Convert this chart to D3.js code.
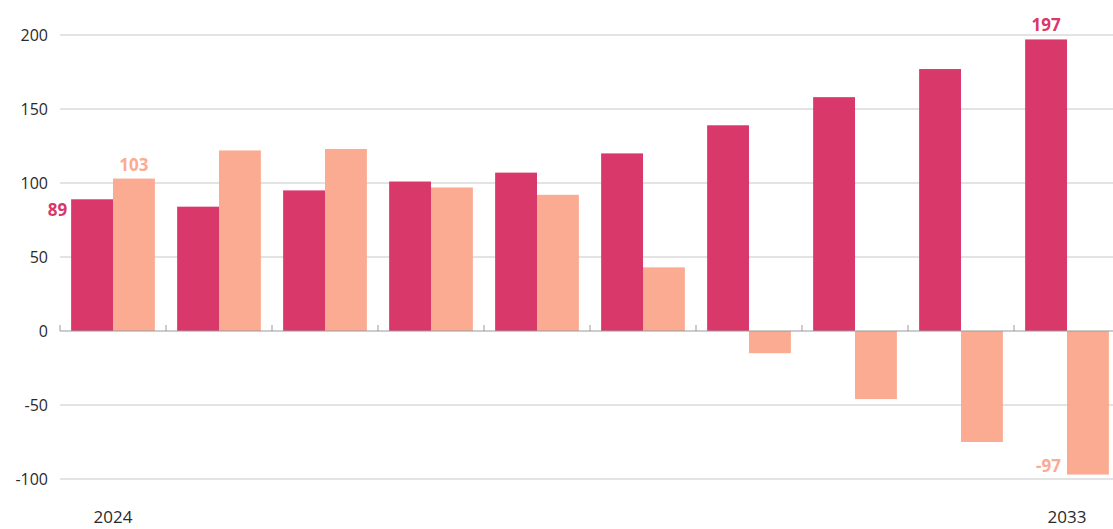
<!DOCTYPE html>
<html>
<head>
<meta charset="utf-8">
<script src="https://cdn.jsdelivr.net/npm/d3@7"></script>
<style>
  body { margin: 0; background: #fff; }
  svg { display: block; font-family: "Open Sans", sans-serif; }
</style>
</head>
<body>
<svg id="chart" width="1113" height="529"></svg>
<script>
var years = [2024, 2025, 2026, 2027, 2028, 2029, 2030, 2031, 2032, 2033];
var seriesA = [89, 84, 95, 101, 107, 120, 139, 158, 177, 197];
var seriesB = [103, 122, 123, 97, 92, 43, -15, -46, -75, -97];
var yTicks = [-100, -50, 0, 50, 100, 150, 200];
var yearLabels = [2024, 2033];

var colorA = "#d9386a",
    colorB = "#fbab92";

var svg = d3.select("#chart"),
    margin = {top: 35, right: -7, bottom: 50, left: 60},
    width = +svg.attr("width") - margin.left - margin.right,
    height = 444;

var g = svg.append("g").attr("transform", "translate(" + margin.left + "," + margin.top + ")");

// one band per year, no padding: the ticks on the zero line mark band edges
var x0 = d3.scaleBand()
    .domain(years)
    .range([0, width]);

var step = x0.bandwidth();

// the two bars inside each band
var x1 = d3.scaleBand()
    .domain(["a", "b"])
    .range([step * 0.105, step * 0.895]);

var y = d3.scaleLinear()
    .domain([-100, 200])
    .range([height, 0]);

var rows = years.map(function(yr, i) {
  return {year: yr, a: seriesA[i], b: seriesB[i]};
});

// grid
g.append("g")
  .selectAll("line")
  .data(yTicks.filter(function(d) { return d !== 0; }))
  .join("line")
    .attr("x1", 0)
    .attr("x2", width)
    .attr("y1", function(d) { return y(d); })
    .attr("y2", function(d) { return y(d); })
    .attr("stroke", "#c8c8c8")
    .attr("stroke-width", 1.2);

// y labels
g.append("g")
  .selectAll("text")
  .data(yTicks)
  .join("text")
    .attr("x", -12)
    .attr("y", function(d) { return y(d); })
    .attr("dy", "0.35em")
    .attr("text-anchor", "end")
    .attr("fill", "#2a2a2a")
    .attr("font-size", 16)
    .text(function(d) { return d; });

// bars
var groups = g.append("g")
  .selectAll("g")
  .data(rows)
  .join("g")
    .attr("transform", function(d) { return "translate(" + x0(d.year) + ",0)"; });

groups.selectAll("rect")
  .data(function(d) { return [{k: "a", v: d.a}, {k: "b", v: d.b}]; })
  .join("rect")
    .attr("x", function(d) { return x1(d.k); })
    .attr("width", x1.bandwidth())
    .attr("y", function(d) { return y(Math.max(0, d.v)); })
    .attr("height", function(d) { return Math.abs(y(d.v) - y(0)); })
    .attr("fill", function(d) { return d.k === "a" ? colorA : colorB; });

// zero line with small upward ticks at band edges
g.append("line")
    .attr("x1", 0)
    .attr("x2", width)
    .attr("y1", y(0))
    .attr("y2", y(0))
    .attr("stroke", "#999")
    .attr("stroke-width", 1.2);

g.append("g")
  .selectAll("line")
  .data(years)
  .join("line")
    .attr("x1", function(d) { return x0(d); })
    .attr("x2", function(d) { return x0(d); })
    .attr("y1", y(0))
    .attr("y2", y(0) - 6)
    .attr("stroke", "#999");

// year labels
g.append("g")
  .selectAll("text")
  .data(yearLabels)
  .join("text")
    .attr("x", function(d) { return x0(d) + step / 2; })
    .attr("y", 488)
    .attr("text-anchor", "middle")
    .attr("fill", "#2a2a2a")
    .attr("font-size", 17)
    .text(function(d) { return d; });

// value annotations
var first = rows[0], last = rows[rows.length - 1];

g.append("text")
    .attr("x", x0(first.year) + x1("a") - 4)
    .attr("y", y(first.a) + 17)
    .attr("text-anchor", "end")
    .attr("fill", colorA)
    .attr("font-size", 17)
    .attr("font-weight", "bold")
    .text(first.a);

g.append("text")
    .attr("x", x0(first.year) + x1("b") + x1.bandwidth() / 2)
    .attr("y", y(first.b) - 8)
    .attr("text-anchor", "middle")
    .attr("fill", colorB)
    .attr("font-size", 17)
    .attr("font-weight", "bold")
    .text(first.b);

g.append("text")
    .attr("x", x0(last.year) + x1("a") + x1.bandwidth() / 2)
    .attr("y", y(last.a) - 8)
    .attr("text-anchor", "middle")
    .attr("fill", colorA)
    .attr("font-size", 17)
    .attr("font-weight", "bold")
    .text(last.a);

g.append("text")
    .attr("x", x0(last.year) + x1("b") - 6)
    .attr("y", y(last.b) - 3)
    .attr("text-anchor", "end")
    .attr("fill", colorB)
    .attr("font-size", 17)
    .attr("font-weight", "bold")
    .text(last.b);
</script>
</body>
</html>
